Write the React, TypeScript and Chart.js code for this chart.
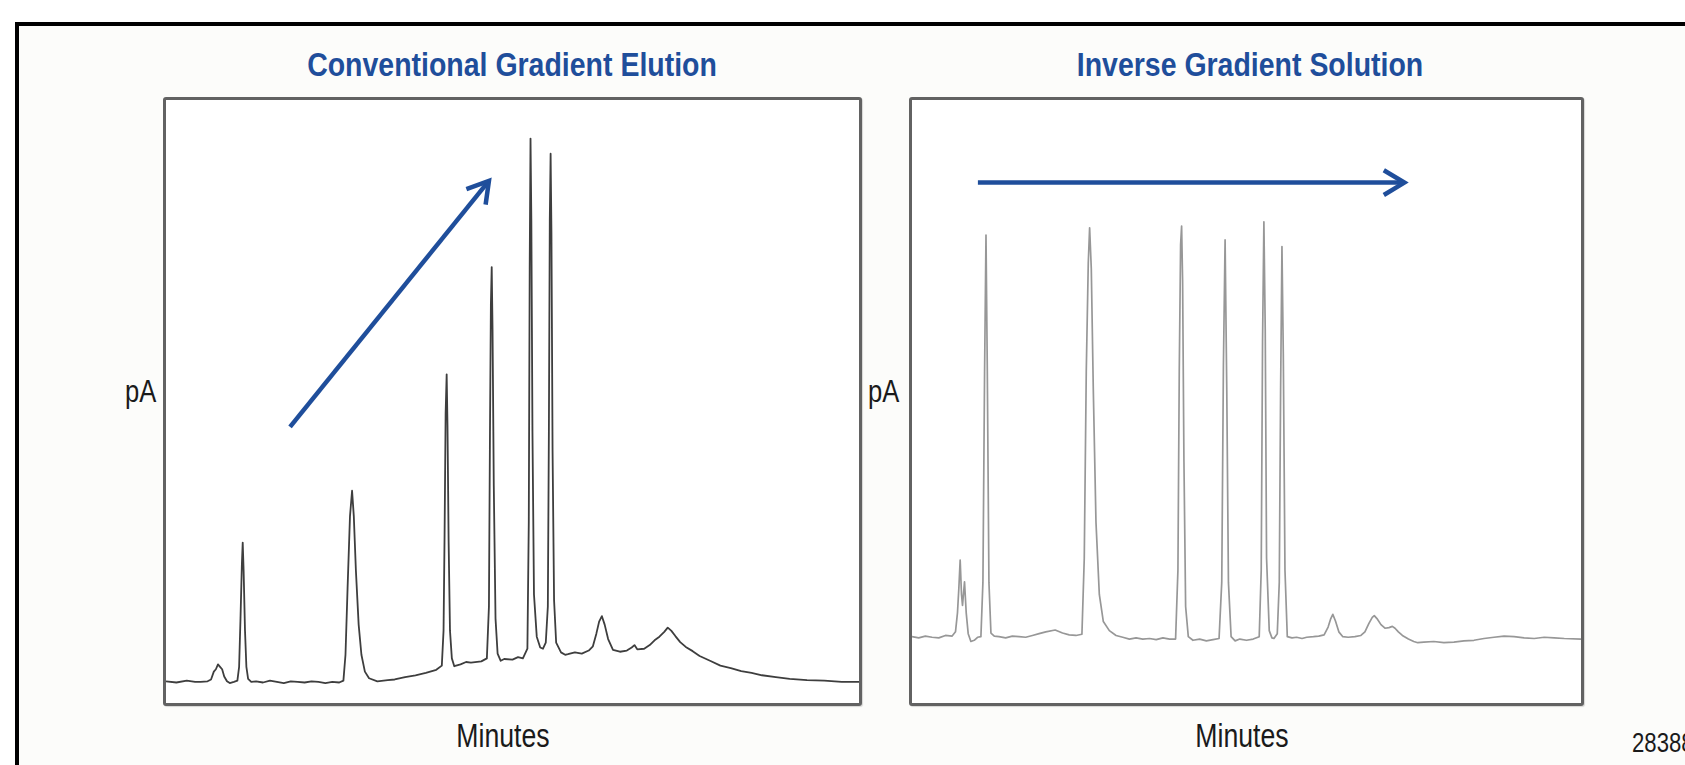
import React, { useEffect, useRef } from "react";
import { Chart, registerables } from "chart.js";

Chart.register(...registerables);

// ---------- DATA ----------
const panelTitles = ["Conventional Gradient Elution", "Inverse Gradient Solution"];
const yAxisLabel = "pA";
const xAxisLabel = "Minutes";
const figureNumber = "28388";

// Conventional gradient chromatogram (minutes in relative units 0-100, signal pA relative 0-100)
const conventionalMinutes = [
  0, 1.5, 3, 4.2, 5, 6.0, 6.5, 6.9, 7.2, 7.5, 7.8, 8.1, 8.4, 8.8, 9.2, 9.8, 10.3, 10.55, 10.75, 10.95, 11.07,
  11.2, 11.4, 11.6, 11.85, 12.3, 13, 14, 15, 16, 17, 18, 19, 20, 21, 22, 23, 24, 25, 25.6, 25.9, 26.2, 26.55,
  26.85, 27.1, 27.4, 27.8, 28.2, 28.7, 29.3, 30.5, 32, 33, 34.5, 36, 37.5, 39, 39.8, 40.05, 40.2, 40.35, 40.5,
  40.62, 40.78, 40.98, 41.25, 41.6, 42.5, 43.3, 44, 45.5, 46.3, 46.6, 46.75, 46.88, 47.0, 47.12, 47.3, 47.55,
  47.85, 48.3, 48.8, 50, 50.8, 51.5, 52.15, 52.35, 52.48, 52.6, 52.72, 52.88, 53.1, 53.5, 54.0, 54.4,
  54.8, 55.1, 55.25, 55.38, 55.5, 55.62, 55.78, 56.0, 56.3, 57, 57.6, 58, 59, 60, 61.0, 61.6, 62.1, 62.5, 62.9,
  63.3, 63.8, 64.5, 65.5, 66.5, 67.2, 67.6, 68.0, 69, 69.8, 70.5, 71.2, 71.9, 72.4, 72.9, 73.5, 74.2, 75, 76,
  77, 78.5, 80, 81.5, 83, 84.5, 86, 88, 90, 92.5, 95, 97.5, 100,
];
const conventionalSignal = [
  3.6, 3.4, 3.7, 3.5, 3.5, 3.6, 3.9, 5.2, 5.6, 6.4, 6.0, 5.6, 4.4, 3.6, 3.3, 3.5, 3.7, 6, 14, 23, 26.6,
  22, 12, 6, 4.0, 3.5, 3.6, 3.4, 3.7, 3.5, 3.3, 3.6, 3.5, 3.4, 3.6, 3.5, 3.3, 3.5, 3.4, 3.7, 8, 19, 31,
  35.2, 31, 22, 13, 8, 5.2, 4.1, 3.6, 3.8, 3.9, 4.3, 4.6, 5.0, 5.5, 6.2, 12, 28, 48, 54.5,
  46, 27, 12, 7.4, 6.1, 6.4, 6.8, 6.7, 6.9, 7.4, 16, 45, 66, 72.3, 62, 36, 14,
  8.2, 7.0, 7.3, 7.2, 7.6, 7.4, 9, 30, 72, 93.6, 80, 45, 18, 11, 9.2, 9.0,
  10, 16, 45, 80, 91.1, 78, 42, 17, 10, 8.4, 8.0, 8.1, 8.4, 8.2, 8.7, 9.4, 11.5, 13.5, 14.4,
  13, 10.6, 8.8, 8.5, 8.7, 9.2, 9.6, 8.9, 9.0, 9.6, 10.4, 11.0, 11.8, 12.5, 12.0, 11.1, 10.1, 9.3, 8.6,
  7.8, 7.0, 6.2, 5.8, 5.3, 5.0, 4.6, 4.3, 4.0, 3.8, 3.7, 3.5, 3.5,
];

// Inverse gradient chromatogram
const inverseMinutes = [
  0, 1, 2, 3, 4, 5, 6, 6.5, 6.8, 7.0, 7.2, 7.4, 7.55, 7.85, 8.1, 8.4, 8.8, 9.3, 9.8, 10.3, 10.6, 10.85, 11.06,
  11.25, 11.5, 11.8, 12.3, 13, 14, 15, 16, 17, 18, 19, 20, 21.4, 22.5, 23.5, 24.5, 25.4, 25.75, 26.05, 26.35,
  26.55, 26.8, 27.1, 27.5, 28.0, 28.6, 29.5, 30.5, 31.5, 32.5, 33.5, 34.5, 35.5, 36.5, 37.5, 38.5, 39.4, 39.75,
  39.95, 40.15, 40.3, 40.45, 40.65, 40.9, 41.3, 42, 43, 44, 45, 45.9, 46.3, 46.55, 46.8, 47.05, 47.3, 47.7,
  48.3, 49, 50, 51, 51.9, 52.2, 52.4, 52.6, 52.8, 53.0, 53.4, 53.8, 54.1, 54.6, 54.9, 55.1, 55.3, 55.5, 55.75,
  56.1, 56.8, 57.5, 58.3, 59, 60, 60.8, 61.6, 62.2, 62.6, 62.9, 63.3, 63.8, 64.4, 65.2, 66.2, 67.1, 67.7, 68.3,
  68.8, 69.1, 69.5, 70.1, 70.7, 71.3, 71.8, 72.2, 72.7, 73.3, 74.2, 75.0, 75.6, 76.5, 78, 79.5, 81, 82.5, 84,
  85.5, 87, 88.5, 90, 91.5, 93, 94.5, 96, 97.5, 100,
];
const inverseSignal = [
  11.0, 10.8, 11.1, 10.9, 10.8, 11.2, 11.1, 11.8, 15, 19, 23.7, 18, 16.2, 20.1, 15, 11.5, 10.2, 10.4, 10.9, 11.0, 20, 55, 77.6,
  56, 20, 11.6, 11.1, 11.0, 10.8, 11.1, 11.0, 10.9, 11.2, 11.5, 11.8, 12.1, 11.6, 11.3, 11.2, 11.4, 24, 55, 73,
  78.8, 72, 52, 30, 18, 13.5, 12.0, 11.2, 10.9, 10.6, 10.8, 10.6, 10.7, 10.5, 10.8, 10.6, 10.6, 22,
  55, 76, 79.1, 70, 40, 16, 11, 10.4, 10.6, 10.3, 10.5, 10.7, 20, 56, 76.8, 52, 20, 11,
  10.3, 10.6, 10.4, 10.6, 11, 22, 60, 79.8, 62, 24, 12, 10.8, 10.7, 11.5, 20, 52, 75.7, 58, 22,
  11, 10.8, 10.9, 10.7, 10.9, 11.0, 11.1, 11.3, 12.6, 14.0, 14.7, 13.6, 11.8, 11.0, 10.9, 11.0, 11.2, 11.8, 13.2,
  14.2, 14.5, 14.0, 13.0, 12.4, 12.5, 12.7, 12.4, 11.8, 11.2, 10.6, 10.2, 10.0, 10.1, 10.2, 10.0, 10.1, 10.3, 10.4,
  10.7, 10.9, 11.1, 11.0, 10.8, 10.7, 10.9, 10.8, 10.7, 10.6,
];

// Gradient arrows (start / end in data units: [minutes, signal])
const conventionalArrow = [[17.9, 45.8], [46.6, 86.6]];
const inverseArrow = [[9.85, 86.3], [73.6, 86.3]];

// ---------- STYLE ----------
const BLUE = "#1f4e9b";
const FONT = "'Liberation Sans', Arial, Helvetica, sans-serif";

const arrowPlugin = {
  id: "gradientArrow",
  afterDatasetsDraw(chart: any, _args: any, opts: any) {
    const pts = opts && opts.points;
    if (!pts) return;
    const xs = chart.scales.x;
    const ys = chart.scales.y;
    const x1 = xs.getPixelForValue(pts[0][0]);
    const y1 = ys.getPixelForValue(pts[0][1]);
    const x2 = xs.getPixelForValue(pts[1][0]);
    const y2 = ys.getPixelForValue(pts[1][1]);
    const ctx = chart.ctx;
    const ang = Math.atan2(y2 - y1, x2 - x1);
    const head = 24;
    const spread = (31 * Math.PI) / 180;
    ctx.save();
    ctx.strokeStyle = BLUE;
    ctx.lineWidth = 4.5;
    ctx.lineCap = "butt";
    ctx.lineJoin = "miter";
    ctx.beginPath();
    ctx.moveTo(x1, y1);
    ctx.lineTo(x2 - Math.cos(ang) * 2, y2 - Math.sin(ang) * 2);
    ctx.stroke();
    ctx.beginPath();
    ctx.moveTo(x2 - head * Math.cos(ang - spread), y2 - head * Math.sin(ang - spread));
    ctx.lineTo(x2, y2);
    ctx.lineTo(x2 - head * Math.cos(ang + spread), y2 - head * Math.sin(ang + spread));
    ctx.stroke();
    ctx.restore();
  },
};

function Chromatogram(props: {
  minutes: number[];
  signal: number[];
  arrow: number[][];
  color: string;
  lineWidth: number;
  width: number;
  height: number;
}) {
  const ref = useRef<HTMLCanvasElement | null>(null);
  useEffect(() => {
    if (!ref.current) return;
    const data = props.minutes.map((m, i) => ({ x: m, y: props.signal[i] }));
    const chart = new Chart(ref.current, {
      type: "line",
      data: {
        datasets: [
          {
            data,
            borderColor: props.color,
            borderWidth: props.lineWidth,
            pointRadius: 0,
            tension: 0,
            fill: false,
            borderJoinStyle: "round",
          },
        ],
      },
      options: {
        animation: false,
        responsive: false,
        devicePixelRatio: 1,
        layout: { padding: 0 },
        plugins: {
          legend: { display: false },
          tooltip: { enabled: false },
          gradientArrow: { points: props.arrow },
        } as any,
        scales: {
          x: { type: "linear", min: 0, max: 100, display: false },
          y: { type: "linear", min: 0, max: 100, display: false },
        },
      },
      plugins: [arrowPlugin],
    });
    return () => chart.destroy();
  }, []);
  return (
    <canvas
      ref={ref}
      width={props.width}
      height={props.height}
      style={{ display: "block", width: props.width, height: props.height }}
    />
  );
}

function Text(props: {
  children: string;
  x: number;
  baseline: number;
  size: number;
  align: "left" | "center";
  scale: number;
  color: string;
  bold?: boolean;
}) {
  const top = props.baseline - 0.8465 * props.size;
  const centered = props.align === "center";
  return (
    <div
      style={{
        position: "absolute",
        left: props.x,
        top,
        fontFamily: FONT,
        fontSize: props.size,
        lineHeight: 1,
        fontWeight: props.bold ? 700 : 400,
        color: props.color,
        whiteSpace: "nowrap",
        width: "max-content",
        transformOrigin: centered ? "50% 50%" : "0 50%",
        transform: centered ? `translateX(-50%) scaleX(${props.scale})` : `scaleX(${props.scale})`,
      }}
    >
      {props.children}
    </div>
  );
}

const boxStyle = (left: number, width: number): React.CSSProperties => ({
  position: "absolute",
  left,
  top: 97,
  width,
  height: 609,
  boxSizing: "border-box",
  border: "3px solid #626262",
  borderRadius: 3,
  background: "#ffffff",
  boxShadow: "1px 1px 1px rgba(0,0,0,0.15)",
});

export default function App() {
  return (
    <div
      style={{
        position: "absolute",
        left: 0,
        top: 0,
        width: 1685,
        height: 765,
        overflow: "hidden",
        background: "#ffffff",
      }}
    >
      <div
        style={{
          position: "absolute",
          left: 15,
          top: 22,
          width: 1720,
          height: 800,
          boxSizing: "border-box",
          border: "4px solid #000",
          background: "#fcfcfa",
        }}
      />
      <Text x={511.7} baseline={76.7} size={33.5} align="center" scale={0.85} color={BLUE} bold>
        {panelTitles[0]}
      </Text>
      <Text x={1249.8} baseline={76.7} size={33.5} align="center" scale={0.85} color={BLUE} bold>
        {panelTitles[1]}
      </Text>

      <div style={boxStyle(163, 699)}>
        <Chromatogram
          minutes={conventionalMinutes}
          signal={conventionalSignal}
          arrow={conventionalArrow}
          color="#3e3e3e"
          lineWidth={1.8}
          width={693}
          height={603}
        />
      </div>
      <div style={boxStyle(909, 675)}>
        <Chromatogram
          minutes={inverseMinutes}
          signal={inverseSignal}
          arrow={inverseArrow}
          color="#979797"
          lineWidth={1.7}
          width={669}
          height={603}
        />
      </div>

      <Text x={125} baseline={401.7} size={32} align="left" scale={0.8} color="#1a1a1a">
        {yAxisLabel}
      </Text>
      <Text x={868} baseline={401.7} size={32} align="left" scale={0.8} color="#1a1a1a">
        {yAxisLabel}
      </Text>
      <Text x={503.4} baseline={747.7} size={32.5} align="center" scale={0.82} color="#1a1a1a">
        {xAxisLabel}
      </Text>
      <Text x={1242} baseline={747.7} size={32.5} align="center" scale={0.82} color="#1a1a1a">
        {xAxisLabel}
      </Text>
      <Text x={1632} baseline={752.7} size={27} align="left" scale={0.82} color="#1a1a1a">
        {figureNumber}
      </Text>
    </div>
  );
}
